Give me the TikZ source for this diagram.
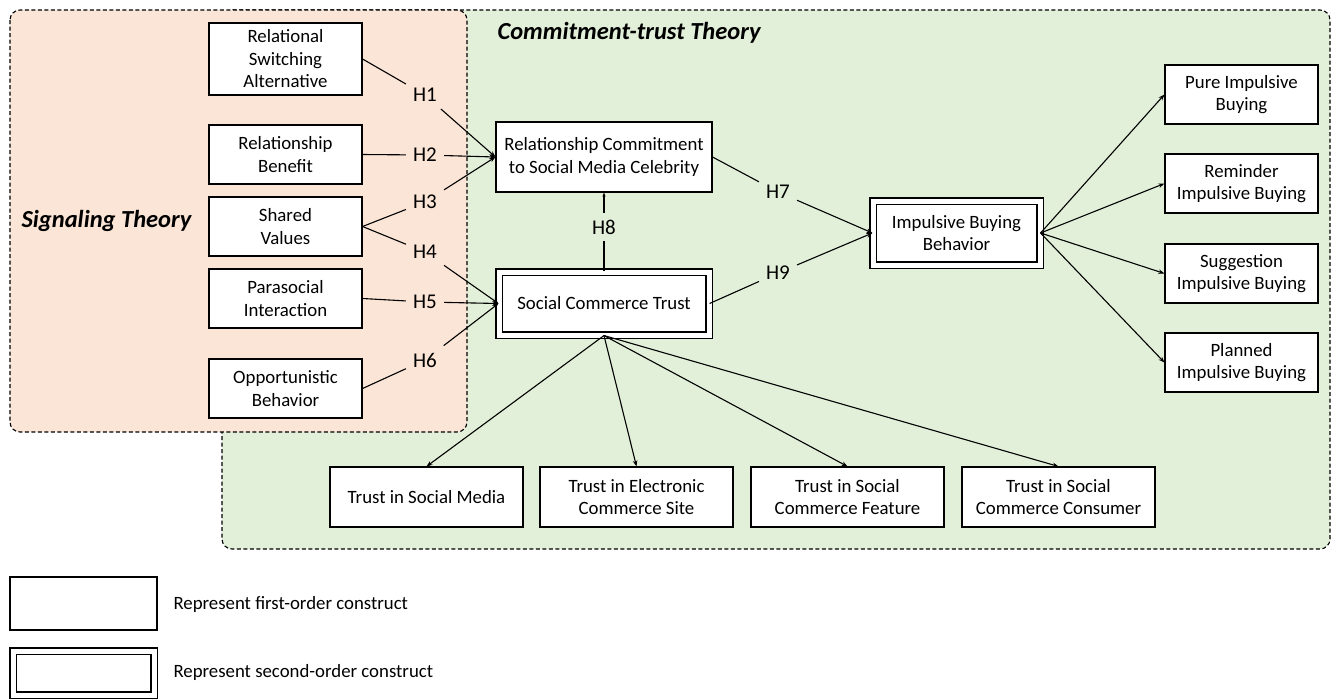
\documentclass[tikz,border=0pt]{standalone}
\usepackage{fontspec}
\setmainfont{Carlito}
\usetikzlibrary{arrows.meta}
\definecolor{sigfill}{HTML}{FBE5D6}
\definecolor{ctfill}{HTML}{E2F0D9}
\tikzset{
  box/.style={draw=black, line width=1.1pt, fill=white, inner sep=2pt, align=center,
     font=\fontsize{18.8}{22.5}\selectfont},
  dbox/.style={box, double=white, double distance=5pt, line width=1.1pt},
  hlab/.style={inner sep=7pt, font=\fontsize{21}{24}\selectfont},
  region/.style={line width=1.1pt, dash pattern=on 4pt off 2.5pt, rounded corners=10pt},
  theory/.style={font=\fontsize{24.5}{28}\selectfont\bfseries\itshape, anchor=west},
  link/.style={line width=1.1pt},
  arr/.style={line width=1.1pt, -{Stealth[length=6pt,width=4.5pt]}},
  legtext/.style={anchor=west, font=\fontsize{18.8}{22}\selectfont}
}
\begin{document}
\begin{tikzpicture}[x=1pt,y=-1pt]
\useasboundingbox (0,0) rectangle (1337,699);
% regions
\draw[region, fill=ctfill] (222,10) rectangle (1330,549);
\draw[region, fill=sigfill] (10,10) rectangle (467,432);
\node[theory] (sig) at (18,221) {Signaling Theory};
\node[theory] (ct) at (494,33) {Commitment-trust Theory};
% first-order predictors
\node[box, minimum width=153pt, minimum height=72pt] (rsa) at (285.5,59) {Relational\\Switching\\Alternative};
\node[box, minimum width=153pt, minimum height=59pt] (rb) at (285.5,154.5) {Relationship\\Benefit};
\node[box, minimum width=153pt, minimum height=59pt] (sv) at (285.5,226.5) {Shared\\Values};
\node[box, minimum width=153pt, minimum height=59pt] (pi) at (285.5,298.5) {Parasocial\\Interaction};
\node[box, minimum width=153pt, minimum height=59pt] (ob) at (285.5,388.5) {Opportunistic\\Behavior};
% mediators
\node[box, minimum width=216pt, minimum height=70pt] (rc) at (604,157) {Relationship Commitment\\to Social Media Celebrity};
\node[dbox, minimum width=210pt, minimum height=63pt] (sct) at (604,303.5) {Social Commerce Trust};
\node[dbox, minimum width=167pt, minimum height=64pt] (ibb) at (956.5,233) {Impulsive Buying\\Behavior};
% outcome dimensions
\node[box, minimum width=153pt, minimum height=59pt] (pure) at (1241.5,94.5) {Pure Impulsive\\Buying};
\node[box, minimum width=153pt, minimum height=59pt] (rem) at (1241.5,183.5) {Reminder\\Impulsive Buying};
\node[box, minimum width=153pt, minimum height=59pt] (sug) at (1241.5,273.5) {Suggestion\\Impulsive Buying};
\node[box, minimum width=153pt, minimum height=59pt] (pla) at (1241.5,362.5) {Planned\\Impulsive Buying};
% trust dimensions
\node[box, minimum width=193pt, minimum height=60pt] (tsm) at (426.5,497) {Trust in Social Media};
\node[box, minimum width=193pt, minimum height=60pt] (tec) at (636.5,497) {Trust in Electronic\\Commerce Site};
\node[box, minimum width=193pt, minimum height=60pt] (tsf) at (847.5,497) {Trust in Social\\Commerce Feature};
\node[box, minimum width=193pt, minimum height=60pt] (tsc) at (1058.5,497) {Trust in Social\\Commerce Consumer};
% hypothesis labels
\node[hlab] (h1) at (425,95) {H1};
\node[hlab] (h2) at (425,155) {H2};
\node[hlab] (h3) at (425,202) {H3};
\node[hlab] (h4) at (425,252) {H4};
\node[hlab] (h5) at (425,302) {H5};
\node[hlab] (h6) at (425,360) {H6};
\node[hlab] (h7) at (778,192) {H7};
\node[hlab] (h8) at (604,227) {H8};
\node[hlab] (h9) at (778,273) {H9};
% connectors
\draw[link] (rsa.east) -- (h1);
\draw[arr] (h1) -- (rc.west);
\draw[link] (rb.east) -- (h2);
\draw[arr] (h2) -- (rc.west);
\draw[link] (sv.east) -- (h3);
\draw[arr] (h3) -- (rc.west);
\draw[link] (sv.east) -- (h4);
\draw[arr] (h4) -- (sct.west);
\draw[link] (pi.east) -- (h5);
\draw[arr] (h5) -- (sct.west);
\draw[link] (ob.east) -- (h6);
\draw[arr] (h6) -- (sct.west);
\draw[link] (rc.east) -- (h7);
\draw[arr] (h7) -- (ibb.west);
\draw[link] (sct.north) -- (h8);
\draw[line width=1.1pt, -{Stealth[length=4pt,width=3pt]}] (h8) -- (rc.south);
\draw[link] (sct.east) -- (h9);
\draw[arr] (h9) -- (ibb.west);
\foreach \t in {pure,rem,sug,pla} \draw[arr] (ibb.east) -- (\t.west);
\foreach \t in {tsm,tec,tsf,tsc} \draw[arr] (sct.south) -- (\t.north);
% legend
\node[box, minimum width=147pt, minimum height=53pt] (leg1) at (83.5,603.5) {};
\node[legtext] (leg1t) at (170,604) {Represent first-order construct};
\node[dbox, minimum width=141pt, minimum height=44pt] (leg2) at (83.5,673) {};
\node[legtext] (leg2t) at (170,672) {Represent second-order construct};
\end{tikzpicture}
\end{document}
